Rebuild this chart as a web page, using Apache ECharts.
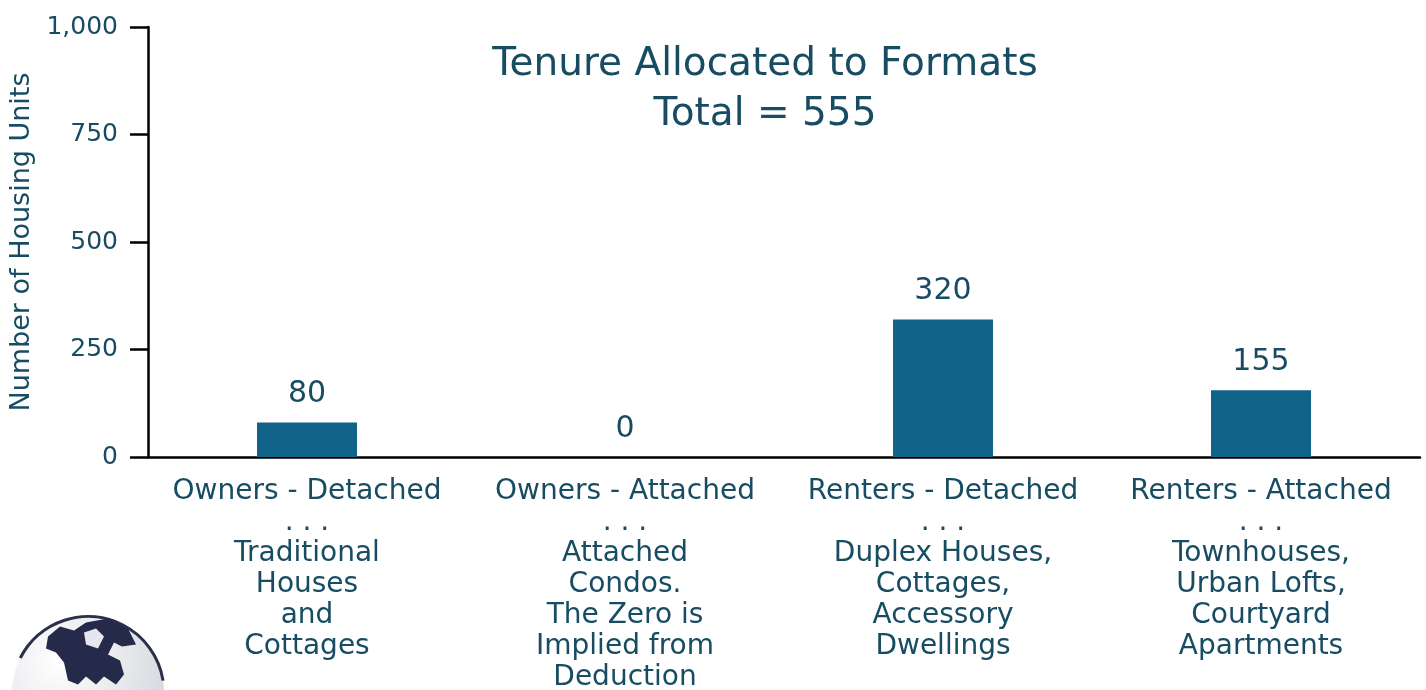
<!DOCTYPE html>
<html>
<head>
<meta charset="utf-8">
<title>Tenure Allocated to Formats</title>
<script src="https://cdn.jsdelivr.net/npm/echarts@6/dist/echarts.min.js"></script>
<style>
  html, body { margin: 0; padding: 0; background: #fff; }
  #chart { width: 1426px; height: 690px; }
</style>
</head>
<body>
<div id="chart"></div>
<script>
// chart data
var categories = [
    'Owners - Detached\n. . .\nTraditional\nHouses\nand\nCottages',
    'Owners - Attached\n. . .\nAttached\nCondos.\nThe Zero is\nImplied from\nDeduction',
    'Renters - Detached\n. . .\nDuplex Houses,\nCottages,\nAccessory\nDwellings',
    'Renters - Attached\n. . .\nTownhouses,\nUrban Lofts,\nCourtyard\nApartments'
];
var units = [80, 0, 320, 155];
var yTicks = [0, 250, 500, 750, 1000];

var textColor = '#174c62';
var barColor = '#12638a';
var font = 'DejaVu Sans';

var dom = document.getElementById('chart');
var myChart = echarts.init(dom);

var option = {
    animation: false,
    title: {
        text: 'Tenure Allocated to Formats\nTotal = 555',
        left: 760,
        top: 35,
        textAlign: 'center',
        textStyle: {
            color: textColor,
            fontFamily: font,
            fontWeight: 'normal',
            fontSize: 39,
            lineHeight: 50
        }
    },
    grid: {
        left: 148,
        right: 6,
        top: 27,
        bottom: 233,
        outerBoundsMode: 'none',
        containLabel: false
    },
    xAxis: {
        type: 'category',
        data: categories,
        axisLine: { lineStyle: { color: '#000', width: 2.5 } },
        axisTick: { alignWithLabel: true, length: 18, lineStyle: { color: '#000', width: 2.5 } },
        axisLabel: {
            interval: 0,
            margin: 19,
            color: textColor,
            fontFamily: font,
            fontSize: 28,
            lineHeight: 31,
            align: 'center'
        }
    },
    yAxis: {
        type: 'value',
        min: yTicks[0],
        max: yTicks[yTicks.length - 1],
        interval: 250,
        name: 'Number of Housing Units',
        nameLocation: 'middle',
        nameGap: 110,
        nameTextStyle: { color: textColor, fontFamily: font, fontSize: 27 },
        splitLine: { show: false },
        axisLine: { show: true, lineStyle: { color: '#000', width: 2.5 } },
        axisTick: { show: true, length: 18, lineStyle: { color: '#000', width: 2.5 } },
        axisLabel: {
            margin: 30,
            color: textColor,
            fontFamily: font,
            fontSize: 25,
            formatter: function (v) { return v.toLocaleString('en-US'); }
        }
    },
    series: [{
        type: 'bar',
        data: units,
        barWidth: 100,
        itemStyle: { color: barColor },
        label: {
            show: true,
            position: 'top',
            distance: 13,
            color: textColor,
            fontFamily: font,
            fontSize: 30
        }
    }],
    // globe logo in the corner (decoration)
    graphic: [{
        type: 'group',
        left: 12,
        top: 614,
        silent: true,
        children: [{
            type: 'circle',
            shape: { cx: 76, cy: 88, r: 76 },
            style: {
                fill: new echarts.graphic.RadialGradient(0.3, 0.3, 0.9, [
                    { offset: 0, color: '#ffffff' },
                    { offset: 1, color: '#cfd1d8' }
                ])
            }
        }, {
            type: 'arc',
            shape: { cx: 76, cy: 88, r: 76, startAngle: -Math.PI * 0.85, endAngle: -Math.PI * 0.05 },
            style: { stroke: '#2b2f4a', lineWidth: 3, fill: null }
        }, {
            type: 'polygon',
            shape: {
                points: [[36, 32], [48, 22], [62, 26], [74, 18], [96, 14], [116, 24], [124, 40], [110, 42],
                         [102, 38], [96, 50], [108, 56], [112, 70], [104, 80], [92, 72], [84, 80], [74, 72],
                         [66, 80], [56, 76], [52, 58], [44, 48], [34, 44]]
            },
            style: { fill: '#25294a' }
        }, {
            type: 'polygon',
            shape: { points: [[72, 28], [84, 24], [92, 32], [86, 44], [74, 40]] },
            style: { fill: '#e6e7ee' }
        }]
    }]
};

myChart.setOption(option);
</script>
</body>
</html>
